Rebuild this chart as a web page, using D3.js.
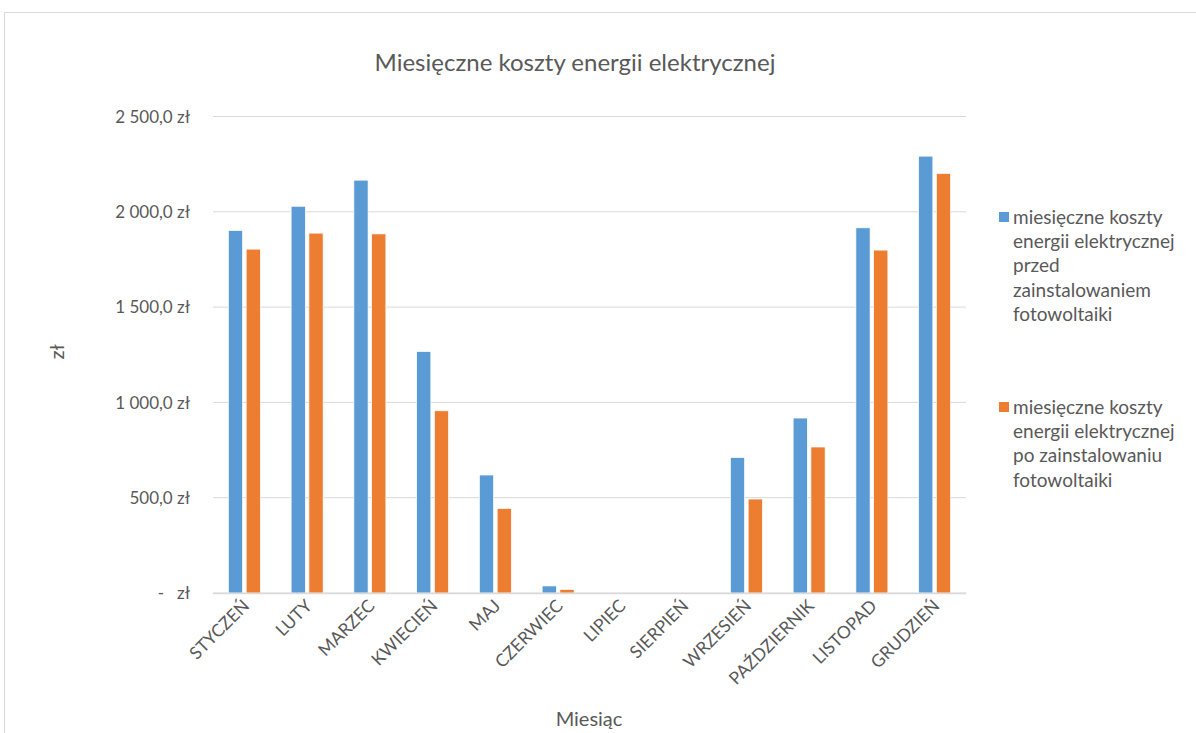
<!DOCTYPE html>
<html><head><meta charset="utf-8">
<script src="https://cdn.jsdelivr.net/npm/d3@7"></script>
<style>body{margin:0;background:#fff}svg{display:block}text{font-family:Lato,"Open Sans",sans-serif;fill:#595959}</style>
</head><body><svg id="c" width="1196" height="733"></svg>
<script>
const months = ["STYCZEŃ","LUTY","MARZEC","KWIECIEŃ","MAJ","CZERWIEC","LIPIEC","SIERPIEŃ","WRZESIEŃ","PAŹDZIERNIK","LISTOPAD","GRUDZIEŃ"];
const before = [1902,2029,2166,1267,619,37,0,0,711,918,1916,2292];
const after = [1804,1888,1884,956,444,19,0,0,493,766,1799,2201];
const seriesNames = ["miesięczne koszty energii elektrycznej przed zainstalowaniem fotowoltaiki","miesięczne koszty energii elektrycznej po zainstalowaniu fotowoltaiki"];
const legendLines = [["miesięczne koszty","energii elektrycznej","przed","zainstalowaniem","fotowoltaiki"],["miesięczne koszty","energii elektrycznej","po zainstalowaniu","fotowoltaiki"]];
const yTicks = [0,500,1000,1500,2000,2500];
const colors = ["#5B9BD5","#ED7D31"];

const svg = d3.select("#c");
svg.append("rect").attr("x",4.5).attr("y",12.5).attr("width",1300).attr("height",800).attr("fill","#fff").attr("stroke","#d9d9d9");

const L=213, R=966, T=116.5, B=593;
const x0 = d3.scaleBand().domain(months).range([L,R]).paddingInner(0.49).paddingOuter(0.245);
const x1 = d3.scaleBand().domain([0,1]).range([0,x0.bandwidth()]).paddingInner(0.2);
const y = d3.scaleLinear().domain([0,2500]).range([B,T]);

const fmt = v => v===0 ? "-   zł" : d3.format(",.1f")(v).replace(/,/g," ").replace(".",",")+" zł";

svg.append("g").selectAll("line").data(yTicks).join("line")
  .attr("x1",L).attr("x2",R).attr("y1",d=>y(d)).attr("y2",d=>y(d))
  .attr("stroke","#d9d9d9").attr("stroke-width",1);

svg.append("g").selectAll("text").data(yTicks).join("text")
  .attr("x",190).attr("y",d=>y(d)).attr("dy","0.36em").attr("text-anchor","end")
  .attr("font-size",17).style("white-space","pre").attr("xml:space","preserve").text(fmt);

const data = months.map((m,i)=>({m,vals:[before[i],after[i]]}));
const g = svg.append("g").selectAll("g").data(data).join("g").attr("transform",d=>`translate(${x0(d.m)},0)`);
g.selectAll("rect").data(d=>d.vals.map((v,k)=>({v,k}))).join("rect")
  .attr("x",d=>x1(d.k)).attr("width",x1.bandwidth())
  .attr("y",d=>y(d.v)).attr("height",d=>B-y(d.v))
  .attr("fill",d=>colors[d.k]).attr("stroke","#fff").attr("stroke-width",0.7);

svg.append("line").attr("x1",L).attr("x2",R).attr("y1",B+0.5).attr("y2",B+0.5).attr("stroke","#d9d9d9").attr("stroke-width",1.5);

svg.append("g").selectAll("text").data(months).join("text")
  .attr("transform",d=>`translate(${x0(d)+x0.bandwidth()/2+6},${B+14}) rotate(-45)`)
  .attr("text-anchor","end").attr("font-size",17.5).text(d=>d);

svg.append("text").attr("x",575).attr("y",71).attr("text-anchor","middle").attr("font-size",24).text("Miesięczne koszty energii elektrycznej");
svg.append("text").attr("transform","translate(64,352) rotate(-90)").attr("text-anchor","middle").attr("font-size",20).text("zł");
svg.append("text").attr("x",589).attr("y",726).attr("text-anchor","middle").attr("font-size",20).text("Miesiąc");

const legY=[224,414];
legendLines.forEach((lines,k)=>{
  const lg = svg.append("g");
  lg.append("rect").attr("x",999).attr("y",legY[k]-12).attr("width",10).attr("height",10).attr("fill",colors[k]);
  lg.selectAll("text").data(lines).join("text").attr("x",1013).attr("y",(d,i)=>legY[k]+i*24.2).attr("font-size",19).text(d=>d);
});
</script></body></html>
